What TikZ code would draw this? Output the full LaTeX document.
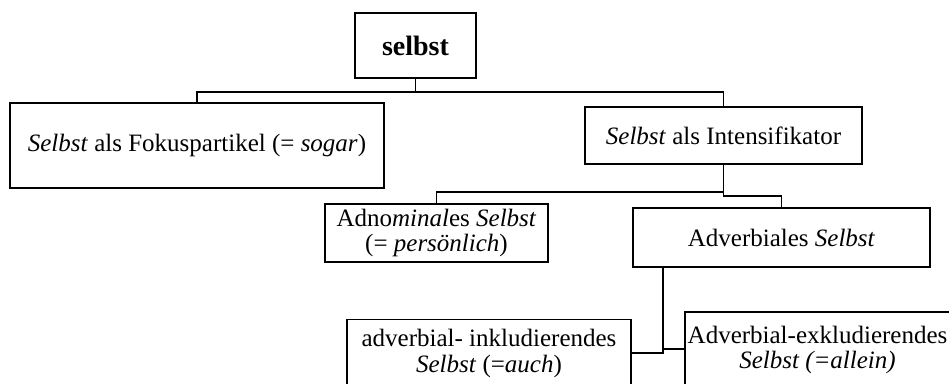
\documentclass[tikz,border=0pt]{standalone}
\usepackage{fontspec}
\setmainfont{Liberation Serif}
\begin{document}
\begin{tikzpicture}[x=1pt,y=-1pt,
  box/.style={draw, line width=1.6pt, inner sep=0pt, align=center,
    font=\fontsize{25}{25.5}\selectfont},
  conn/.style={line width=1.6pt}]
\useasboundingbox (0,0) rectangle (949,383);
\clip (0,0) rectangle (949,383);
\fill[white] (0,0) rectangle (949,383);
\node[box, minimum width=121pt, minimum height=65pt, font=\fontsize{28}{30}\selectfont] (top) at (415.5,45.5) {\textbf{selbst}};
\node[box, minimum width=374pt, minimum height=85pt] (fok) at (197,145.5) {\textit{Selbst} als Fokuspartikel (= \textit{sogar})};
\node[box, minimum width=277pt, minimum height=57pt] (int) at (723.5,135.5) {\textit{Selbst} als Intensifikator};
\node[box, minimum width=223pt, minimum height=58pt] (adn) at (436.5,233) {Adno\textit{minal}es \textit{Selbst}\\(= \textit{persönlich})};
\node[box, minimum width=297pt, minimum height=59pt] (adv) at (781.5,237.5) {Adverbiales \textit{Selbst}};
\node[box, minimum width=284pt, minimum height=68pt] (inkl) at (489,353.3) {adverbial- inkludierendes\\\textit{Selbst} (=\textit{auch})};
\node[box, minimum width=265pt, minimum height=76.6pt] (exkl) at (817.5,350) {Adverbial-exkludierendes\\\textit{Selbst (=allein)}};
\coordinate (j1) at (415.5,92);
\coordinate (j2) at (723.5,192);
\coordinate (j3) at (723.5,196);
\coordinate (j4) at (663,353);
\coordinate (j5) at (663,349);
\draw[conn] (top.south) -- (j1);
\draw[conn] (j1) -| (fok.north);
\draw[conn] (j1) -| (int.north);
\draw[conn] (int.south) -- (j2) -| (adn.north);
\draw[conn] (j2) -- (j3) -| (adv.north);
\draw[conn] (adv.south -| j4) -- (j4) -- (inkl.east |- j4);
\draw[conn] (j5) -- (exkl.west |- j5);
\end{tikzpicture}
\end{document}
